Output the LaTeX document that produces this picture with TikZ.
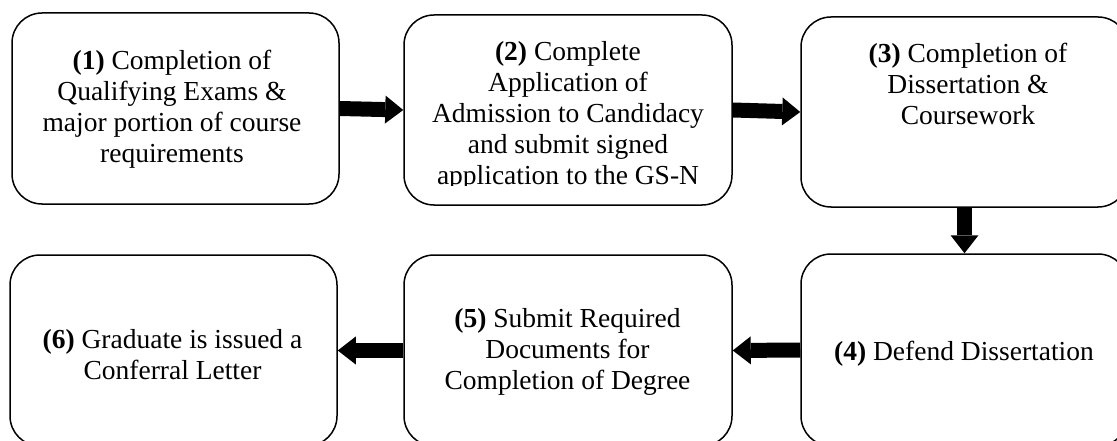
\documentclass[tikz,border=0pt]{standalone}
\usepackage{fontspec}
\setmainfont{Liberation Serif}
\usetikzlibrary{arrows.meta}
\begin{document}
\begin{tikzpicture}[x=1pt,y=-1pt,
  stepbox/.style={draw=black, line width=1.5pt, rounded corners=30pt, inner sep=0pt, fill=white},
  steptext/.style={align=center, inner sep=0pt, font=\fontsize{27.5}{31}\selectfont},
  blockarrow/.style={line width=15pt, -{Triangle[width=28pt,length=18pt,line width=0pt]}}]
\useasboundingbox (0,0) rectangle (1117,441);
\clip (0,0) rectangle (1117,441);
% boxes
\node[stepbox, minimum width=327pt, minimum height=191pt] (b1) at (175.5,108.5) {};
\node[stepbox, minimum width=328pt, minimum height=190pt] (b2) at (568,110) {};
\node[stepbox, minimum width=327pt, minimum height=190pt] (b3) at (964.5,112) {};
\node[stepbox, minimum width=327pt, minimum height=192pt] (b4) at (964.5,350) {};
\node[stepbox, minimum width=328pt, minimum height=191pt] (b5) at (568,350.5) {};
\node[stepbox, minimum width=327pt, minimum height=191pt] (b6) at (173.5,350.5) {};
% texts
\node[steptext] (t1) at (172,109.5) {\textbf{(1)} Completion of\\Qualifying Exams \&\\major portion of course\\requirements};
\begin{scope}
\clip (404,15) rectangle (732,186);
\node[steptext] (t2) at (568,116) {\textbf{(2)} Complete\\Application of\\Admission to Candidacy\\and submit signed\\application to the GS-N};
\end{scope}
\node[steptext] (t3) at (968,83.5) {\textbf{(3)} Completion of\\Dissertation \&\\Coursework};
\node[steptext] (t4) at (964,353.5) {\textbf{(4)} Defend Dissertation};
\node[steptext] (t5) at (567.5,351.5) {\textbf{(5)} Submit Required\\Documents for\\Completion of Degree};
\node[steptext] (t6) at (172.5,354.5) {\textbf{(6)} Graduate is issued a\\Conferral Letter};
% arrows
\draw[blockarrow] (b1.east) -- (b2.west);
\draw[blockarrow] (b2.east) -- (b3.west);
\draw[blockarrow] (b3.south) -- (b4.north);
\draw[blockarrow] (b4.west) -- (b5.east);
\draw[blockarrow] (b5.west) -- (b6.east);
\end{tikzpicture}
\end{document}
